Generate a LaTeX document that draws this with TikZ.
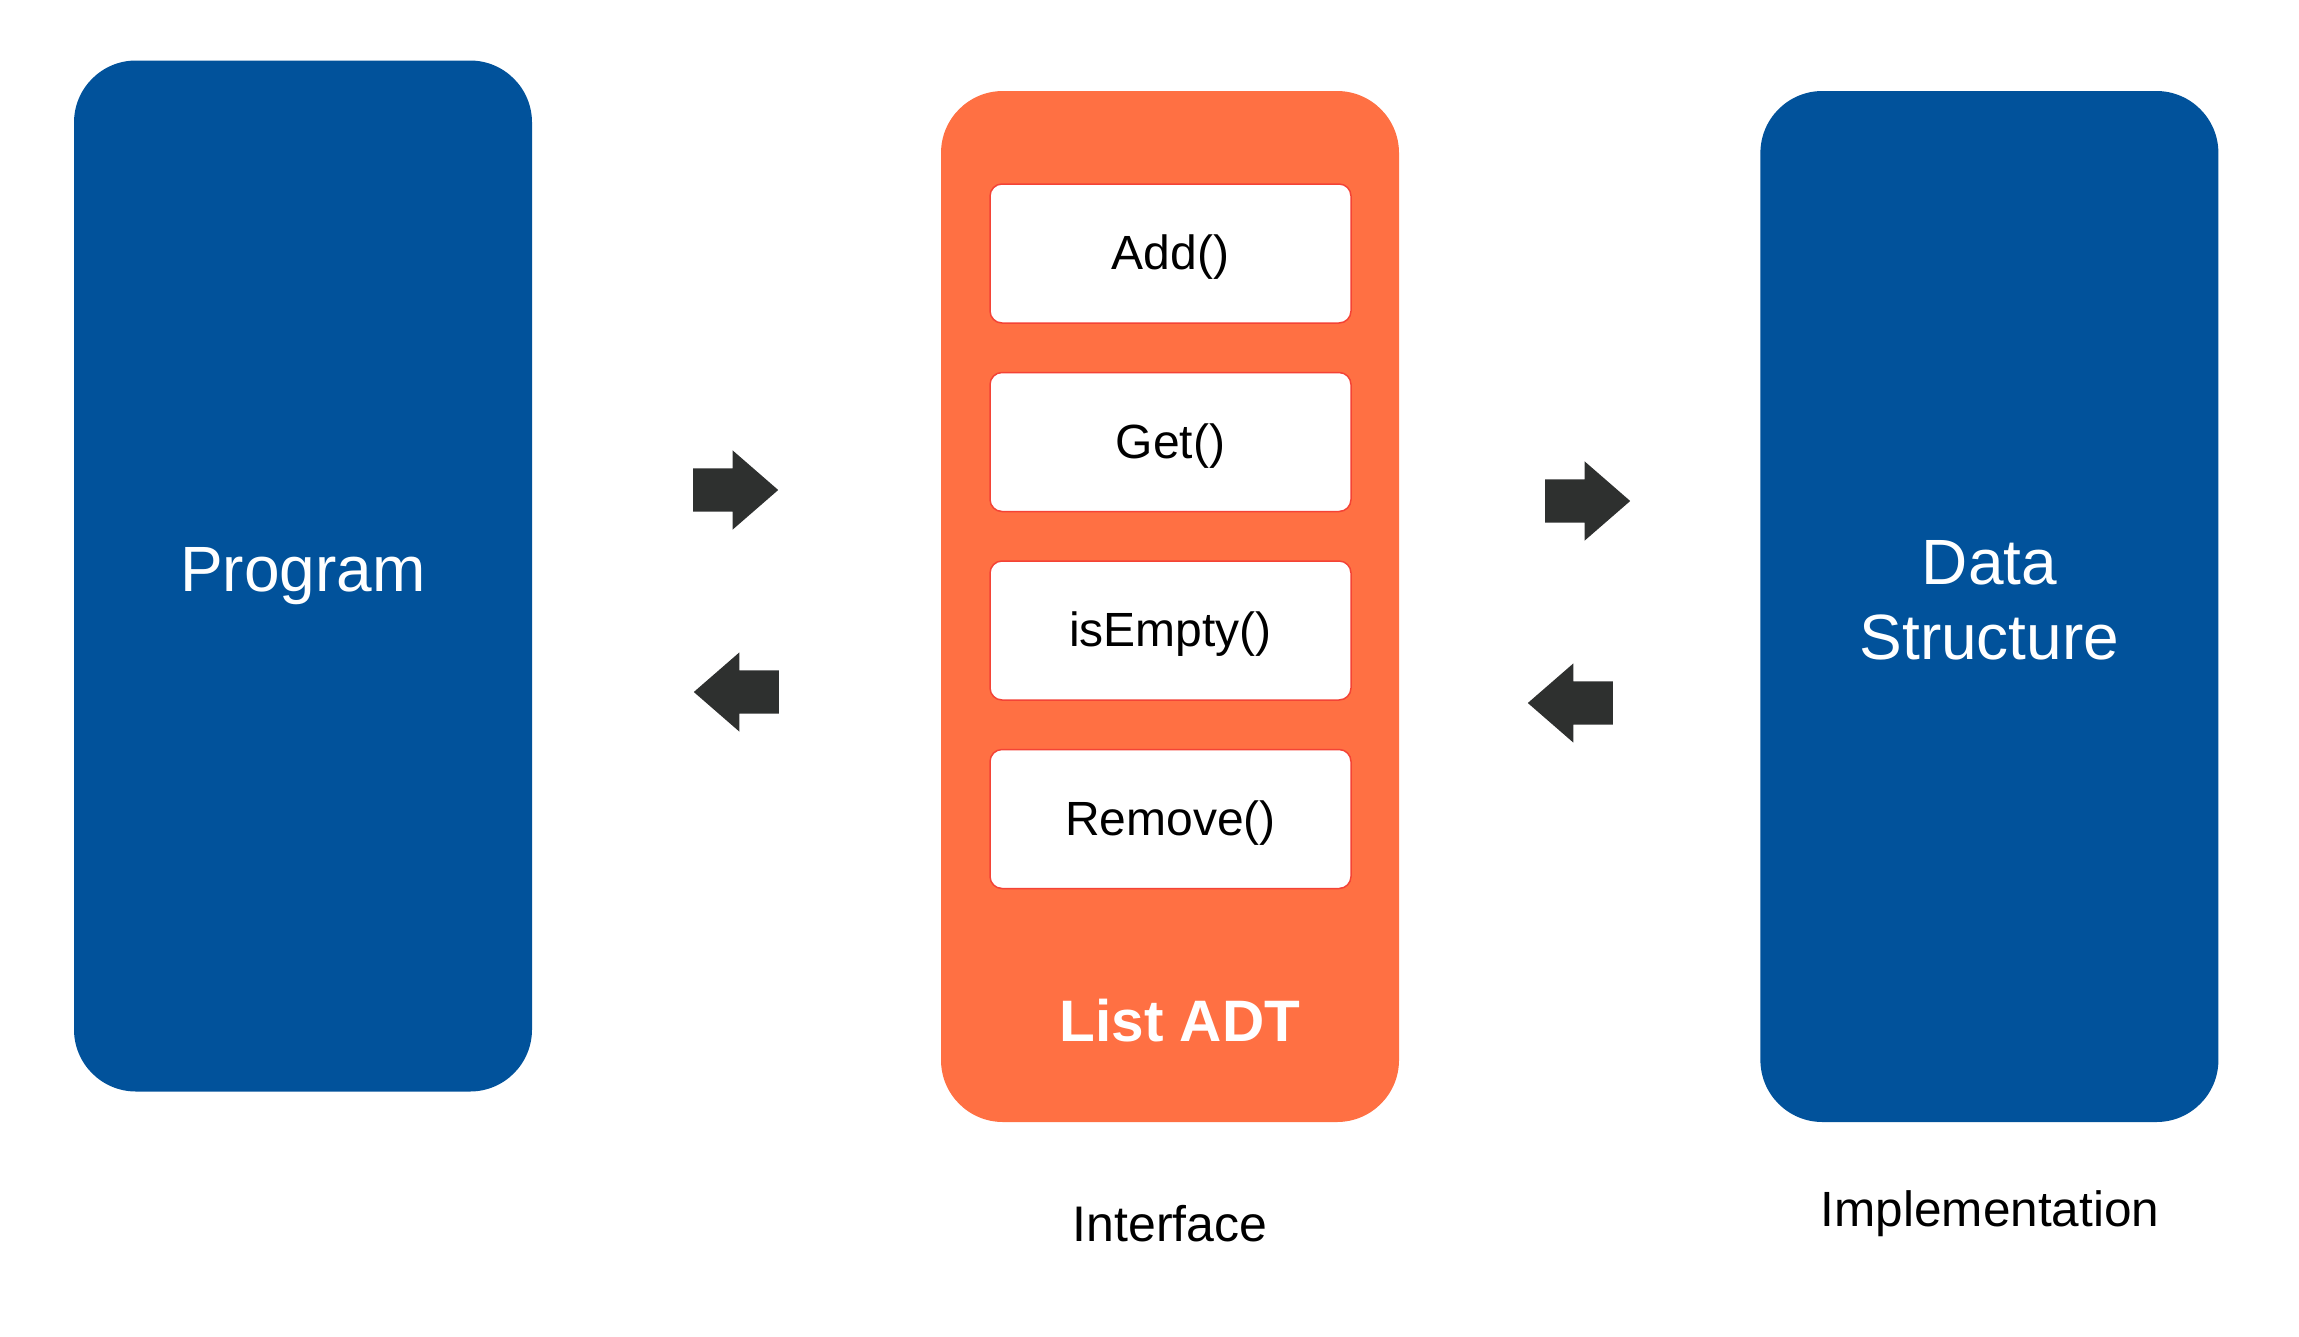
\documentclass[tikz,border=0pt]{standalone}
\usepackage{fontspec}
\setmainfont{Liberation Sans}
\usetikzlibrary{positioning}
\usetikzlibrary{shapes.arrows}

\begin{document}
\begin{tikzpicture}[x=1pt,y=-1pt,node distance=48pt,
	big box/.style={rectangle,rounded corners=62pt,minimum width=458pt,minimum height=1031pt,inner sep=0pt},
	op box/.style={rectangle,draw=opred,line width=1.5pt,fill=white,rounded corners=12pt,
		minimum width=361pt,minimum height=139pt,text height=35pt,text depth=3pt,font=\fontsize{48}{58}\selectfont},
	block arrow/.style={single arrow,fill=arrowgray,inner xsep=0pt,inner ysep=21.5pt,
		single arrow head extend=18pt,single arrow tip angle=82,minimum height=85pt}]
	
	\definecolor{adtblue}{RGB}{1,82,155}
	\definecolor{adtorange}{RGB}{255,112,67}
	\definecolor{opred}{RGB}{244,67,54}
	\definecolor{arrowgray}{RGB}{46,48,47}
	
	\useasboundingbox (0,0) rectangle (2299,1336);
	
	\node[big box, fill=adtblue, text=white, font=\fontsize{64}{75}\selectfont] (prog) at (303,576) {Program};
	\node[big box, fill=adtorange] (adt) at (1170,606.5) {};
	\node[big box, fill=adtblue] (ds) [right=361pt of adt] {};
	\node[text=white, align=center, font=\fontsize{64}{75}\selectfont, yshift=6pt] (dstext) at (ds) {Data\\Structure};
	
	% operations of the list
	\node[op box] (add) at (1170.5,253.5) {Add()};
	\node[op box] (get) [below=of add] {Get()};
	\node[op box] (empty) [below=of get] {isEmpty()};
	\node[op box] (remove) [below=of empty] {Remove()};
	
	\node[anchor=base, text=white, font=\bfseries\fontsize{58.5}{70}\selectfont] (name) at (1180,1041) {List ADT};
	\node[anchor=base, font=\fontsize{50}{60}\selectfont] (iface) at (1170,1241) {Interface};
	\node[anchor=base, font=\fontsize{49.5}{60}\selectfont] (impl) at (1990,1226) {Implementation};
	
	% block arrows between the boxes
	\node[block arrow, anchor=tail] (p2a) at (693,490) {};
	\node[block arrow, shape border rotate=180, anchor=tail] (a2p) at (779,692) {};
	\node[block arrow, anchor=tail] (a2d) at (1545,501) {};
	\node[block arrow, shape border rotate=180, anchor=tail] (d2a) at (1613,703) {};
\end{tikzpicture}
\end{document}
